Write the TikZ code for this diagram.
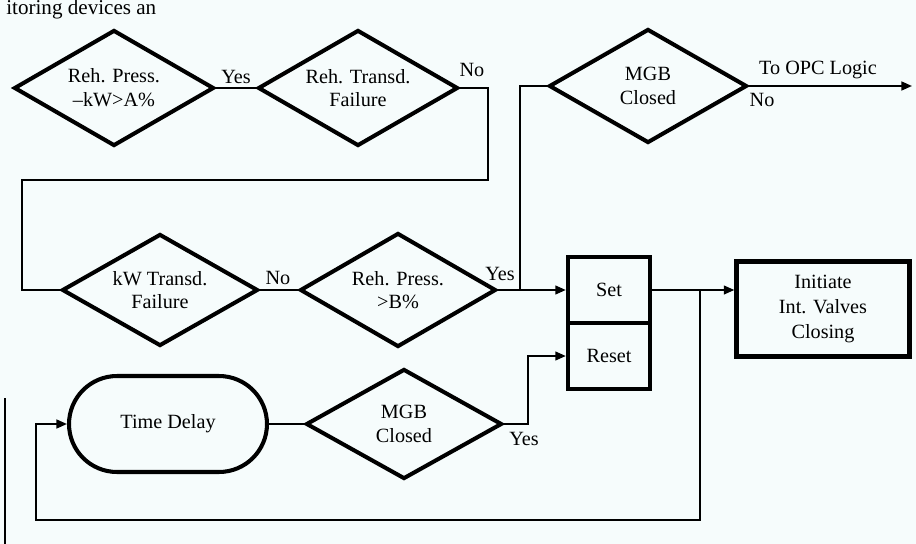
\documentclass[tikz,border=0pt]{standalone}
\usepackage{fontspec}
\setmainfont{Liberation Serif}
\usetikzlibrary{shapes.geometric,arrows.meta}
\definecolor{paper}{RGB}{246,252,252}
\begin{document}
\begin{tikzpicture}[x=0.02cm,y=-0.02cm,
  every node/.style={font=\fontsize{11.5}{13.5}\selectfont, align=center, inner sep=0pt},
  dia/.style={diamond, draw, line width=2.3pt, shape aspect=1.7},
  box/.style={rectangle, draw, line width=2.5pt},
  stadium/.style={rectangle, draw, line width=2.3pt, rounded corners=0.96cm, minimum width=3.96cm, minimum height=1.92cm},
  conn/.style={line width=1.1pt},
  arr/.style={conn, -{Triangle[length=6pt,width=5pt]}}
]
\fill[paper] (0,0) rectangle (916,544);
\clip (0,0) rectangle (916,544);
\useasboundingbox (0,0) rectangle (916,544);

% header fragment
\node[anchor=base west, font=\fontsize{12}{14}\selectfont] (hdr) at (6,15) {itoring devices an};

% row 1
\node[dia, minimum width=4cm, minimum height=2.32cm] (d1) at (114,88) {Reh. Press.\\–kW>A\%};
\node[dia, minimum width=4cm, minimum height=2.32cm] (d2) at (358,88) {Reh. Transd.\\Failure};
\node[dia, minimum width=3.96cm, minimum height=2.28cm] (d3) at (648,86) {MGB\\Closed};

% row 2
\node[dia, minimum width=3.92cm, minimum height=2.24cm] (d4) at (160,290) {kW Transd.\\Failure};
\node[dia, minimum width=3.92cm, minimum height=2.28cm] (d5) at (398,290) {Reh. Press.\\>B\%};
\node[box, minimum width=1.64cm, minimum height=1.32cm] (set) at (609,290) {Set};
\node[box, minimum width=1.64cm, minimum height=1.32cm] (reset) at (609,356) {Reset};
\node[box, minimum width=3.46cm, minimum height=1.9cm, font=\fontsize{11.5}{14}\selectfont] (init) at (823,309) {Initiate\\Int. Valves\\Closing};

% row 3
\node[stadium] (td) at (168,424) {Time Delay};
\node[dia, minimum width=3.92cm, minimum height=2.2cm] (d6) at (404,424) {MGB\\Closed};

% helper coordinates
\coordinate (j1) at (520,290);
\coordinate (j2) at (700,290);
\coordinate (opc) at (912,86);

% connectors
\draw[conn] (d1.east) -- (d2.west);
\draw[conn] (d2.east) -- (488,88) -- (488,180) -- (22,180) -- (22,290) -- (d4.west);
\draw[conn] (d4.east) -- (d5.west);
\draw[arr] (d5.east) -- (set.west);
\draw[conn] (j1) |- (d3.west);
\draw[arr] (d3.east) -- (opc);
\draw[arr] (set.east) -- (set.east -| init.west);
\draw[arr] (j2) -- (700,520) -- (36,520) |- (td.west);
\draw[conn] (td.east) -- (d6.west);
\draw[arr] (d6.east) -- (528,424) |- (reset.west);
\draw[line width=1pt] (5,398) -- (5,544);

% labels
\node (lyes1) at (236,77) {Yes};
\node (lno1) at (472,70) {No};
\node (lno2) at (278,278) {No};
\node (lyes2) at (500,274) {Yes};
\node (lopc) at (818,70) {To OPC Logic};
\node (lno3) at (762,100) {No};
\node (lyes3) at (524,439) {Yes};
\end{tikzpicture}
\end{document}
